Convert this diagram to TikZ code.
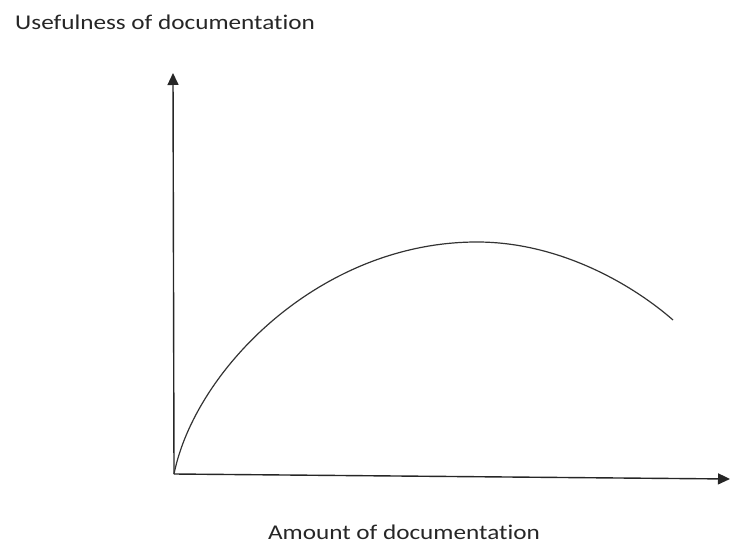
\documentclass[tikz,border=0pt]{standalone}
\usepackage{fontspec}
\setmainfont{Carlito}[Ligatures=NoCommon]
\usetikzlibrary{arrows.meta}
\begin{document}
\begin{tikzpicture}[x=1pt,y=-1pt,
  axis/.style={line width=1.4pt,draw=black!85,-{Triangle[length=12pt,width=11pt]}},
  curve/.style={line width=1.2pt,draw=black!80},
  label/.style={font=\fontsize{21}{25}\selectfont,text=black!85,inner sep=0pt,xscale=1.2}]
  \useasboundingbox (0,0) rectangle (730,545);
  % axes
  \coordinate (o) at (174,474);
  \coordinate (ytip) at (173,73);
  \coordinate (xtip) at (730,479);
  \coordinate (peak) at (477,242);
  \coordinate (tail) at (673,320);
  \draw[axis] (o) -- (ytip);
  \draw[axis] (o) -- (xtip);
  % usefulness curve: steep rise, flat top, gentle fall
  \draw[curve] (o) .. controls (195,370) and (320,242) .. (peak)
                   .. controls (560,242) and (633,285) .. (tail);
  % axis titles
  \node[label,anchor=base west] (ylab) at (15,30) {Usefulness of documentation};
  \node[label,anchor=base] (xlab) at (404,539) {Amount of documentation};
\end{tikzpicture}
\end{document}
